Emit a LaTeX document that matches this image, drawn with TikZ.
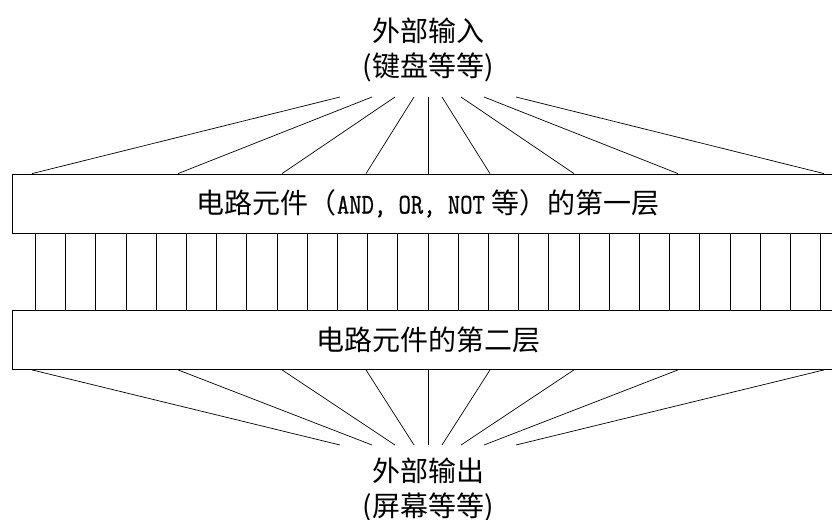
\documentclass[tikz,border=0pt]{standalone}
\usepackage{fontspec}
\setmainfont{Noto Sans CJK SC}
\newfontfamily\monofnt[FakeStretch=0.84,FakeBold=0.8]{Latin Modern Mono}
\usetikzlibrary{calc}
\begin{document}
\begin{tikzpicture}[x=1pt,y=-1pt,
  layer/.style={draw, line width=0.8pt, minimum width=832pt, minimum height=59pt, inner sep=0pt, font=\fontsize{28}{34}\selectfont},
  ext/.style={align=center, inner sep=0pt, font=\fontsize{28}{35}\selectfont},
  wire/.style={line width=0.7pt}]
\useasboundingbox (0,0) rectangle (832,519);
\node[layer] (L1) at (428,203.5) {电路元件（{\fontsize{28.5}{28}\selectfont\monofnt AND, OR, NOT} 等）的第一层};
\node[layer] (L2) at (428,340) {电路元件的第二层};
\node[ext] (in) at (428,49.5) {外部输入\\(键盘等等)};
\node[ext] (out) at (428,489.5) {外部输出\\(屏幕等等)};
\coordinate (inApex) at (428,97);
\coordinate (outApex) at (428,445);
\foreach \a/\b in {-88/-396,-56/-250,-33/-146,-14/-62,0/0,14/62,33/146,56/250,88/396}{
  \draw[wire] ([xshift=\a pt]inApex) -- ([xshift=\b pt]L1.north);
  \draw[wire] ([xshift=\b pt]L2.south) -- ([xshift=\a pt]outApex);
}
\foreach \k in {-13,...,13}
  \draw[wire] ([xshift=\k*30.2pt]L1.south) -- ([xshift=\k*30.2pt]L2.north);
\end{tikzpicture}
\end{document}
